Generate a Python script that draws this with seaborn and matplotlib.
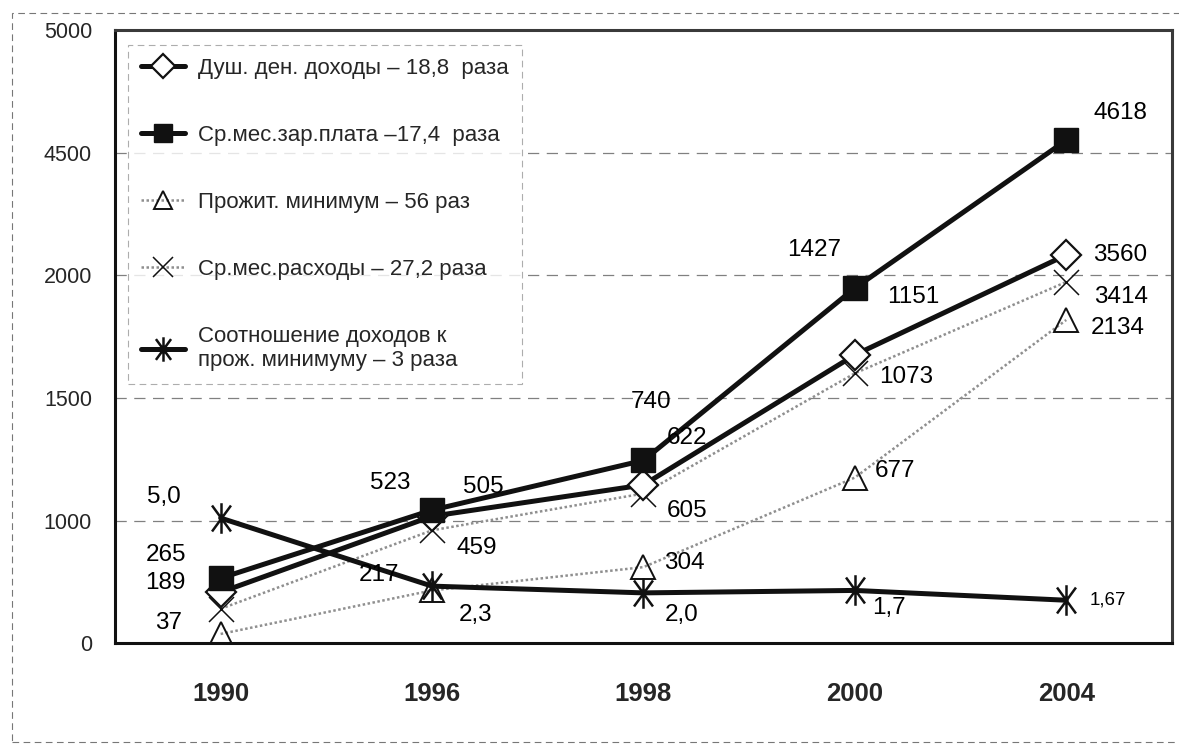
"""
Income / wages / subsistence minimum growth 1990-2004, line chart with
value labels next to each marker. The y axis carries the original
(non-linear) tick labels, so marker heights are stored in axis units.
"""

import matplotlib.pyplot as plt
import matplotlib.patches as mpatches
from matplotlib.path import Path
import numpy as np
import pandas as pd
import seaborn as sns

YEARS = ["1990", "1996", "1998", "2000", "2004"]

# tick labels printed on the y axis (positions 0, 1000, ... 5000)
Y_TICK_LABELS = ["0", "1000", "1500", "2000", "4500", "5000"]

# plotted heights in axis units
INCOME = [415, 1035, 1290, 2350, 3165]
WAGE = [530, 1085, 1490, 2895, 4100]
SUBSIST = [75, 430, 620, 1350, 2635]
SPEND = [280, 920, 1220, 2200, 2945]
RATIO = [1020, 465, 410, 430, 350]

# numbers printed next to the markers
INCOME_TXT = ["189", "505", "622", "1151", "3560"]
WAGE_TXT = ["265", "523", "740", "1427", "4618"]
SUBSIST_TXT = ["37", "217", "304", "677", "2134"]
SPEND_TXT = [None, "459", "605", "1073", "3414"]
RATIO_TXT = ["5,0", "2,3", "2,0", "1,7", "1,67"]

LABELS = [
    "Душ. ден. доходы – 18,8  раза",
    "Ср.мес.зар.плата –17,4  раза",
    "Прожит. минимум – 56 раз",
    "Ср.мес.расходы – 27,2 раза",
    "Соотношение доходов к\nпрож. минимуму – 3 раза",
]

# label offsets in pixels from each marker (dx, dy)
OFF_INCOME = [(-55, 9), (51, 29), (44, 47), (58, 58), (54, 0)]
OFF_WAGE = [(-55, 23), (-42, 27), (8, 58), (-41, 38), (54, 27)]
OFF_SUBSIST = [(-52, 11), (-53, 15), (41, 4), (40, 7), (52, -8)]
OFF_SPEND = [None, (45, -18), (44, -17), (51, -4), (55, -15)]
OFF_RATIO = [(-57, 21), (44, -29), (38, -22), (34, -18), (42, 0)]

# asterisk as in the scan: a vertical stroke crossed by a steep X
STAR = Path(
    [(0, -1), (0, 1), (-0.62, -0.85), (0.62, 0.85), (-0.62, 0.85), (0.62, -0.85)],
    [Path.MOVETO, Path.LINETO, Path.MOVETO, Path.LINETO, Path.MOVETO, Path.LINETO],
)

sns.set_style("white")
plt.rcParams["font.family"] = ["Liberation Sans", "DejaVu Sans"]

fig = plt.figure(figsize=(11.79, 7.47), dpi=100)
ax = fig.add_axes([0.0975, 0.139, 0.8965, 0.821])

# outer dashed frame of the scanned figure
fig.patches.append(mpatches.Rectangle(
    (12 / 1179, 5 / 747), 1.0, 1 - 18 / 747, transform=fig.transFigure,
    fill=False, ec="#777777", lw=0.8, ls=(0, (6, 4)), zorder=0))

BLACK = "#111111"
GREY = "#8f8f8f"

series = [
    (INCOME, dict(color=BLACK, lw=3.6, marker="D", ms=15, mfc="white",
                  mec=BLACK, mew=1.6), INCOME_TXT, OFF_INCOME, 4),
    (WAGE, dict(color=BLACK, lw=3.6, marker="s", ms=17, mfc=BLACK,
                mec=BLACK, mew=1), WAGE_TXT, OFF_WAGE, 5),
    (SUBSIST, dict(color=GREY, lw=1.8, ls=(0, (1, 1)), marker="^", ms=17,
                   mfc="none", mec=BLACK, mew=1.4), SUBSIST_TXT, OFF_SUBSIST, 2),
    (SPEND, dict(color=GREY, lw=1.8, ls=(0, (1, 1)), marker="x", ms=18,
                 mfc="none", mec=BLACK, mew=1.1), SPEND_TXT, OFF_SPEND, 3),
    (RATIO, dict(color=BLACK, lw=3.6, marker=STAR, ms=22,
                 mec=BLACK, mew=1.8), RATIO_TXT, OFF_RATIO, 6),
]

for (vals, style, texts, offs, z), lab in zip(series, LABELS):
    sns.lineplot(x=YEARS, y=vals, ax=ax, label=lab, sort=False,
                 zorder=z, **style)
    for i, (t, o) in enumerate(zip(texts, offs)):
        if t is None:
            continue
        fs = 13.5 if t == "1,67" else 17.5
        ax.annotate(t, (i, vals[i]), xytext=o, textcoords="offset pixels",
                    ha="center", va="center", fontsize=fs, color="black",
                    zorder=8)

ax.set_xlim(-0.5, 4.5)
ax.set_ylim(0, 5000)
ax.set_yticks(np.arange(0, 5001, 1000))
ax.set_yticklabels(Y_TICK_LABELS, fontsize=15.5)
ax.set_xticks(range(len(YEARS)))
ax.set_xticklabels(YEARS, fontsize=18.5, fontweight="bold")
ax.set_xticks(np.arange(0.5, 4.5, 1), minor=True)
ax.tick_params(axis="x", which="major", length=0, pad=28)
ax.tick_params(axis="x", which="minor", length=7, width=1, direction="out",
               color=BLACK)
ax.tick_params(axis="y", length=9, width=1, direction="inout", pad=12,
               color=BLACK)
ax.set_xlabel("")
ax.set_ylabel("")

for y in np.arange(1000, 5000, 1000):
    ax.axhline(y, color="#555555", lw=0.9, ls=(0, (9, 6)), alpha=0.75,
               zorder=1)

for side in ["left", "bottom"]:
    ax.spines[side].set_color(BLACK)
    ax.spines[side].set_linewidth(2.2)
for side in ["top", "right"]:
    ax.spines[side].set_color("#3a3a3a")
    ax.spines[side].set_linewidth(2.2)

leg = ax.legend(loc="upper left", bbox_to_anchor=(0.012, 0.976),
                fontsize=16, frameon=True, handlelength=2.0,
                handletextpad=0.55, labelspacing=2.07, borderpad=0.6,
                borderaxespad=0, fancybox=False, markerscale=0.8)
frame = leg.get_frame()
frame.set_edgecolor("#999999")
frame.set_linestyle((0, (6, 4)))
frame.set_linewidth(0.8)
frame.set_facecolor("white")
leg.set_zorder(10)

fig.savefig("out.png", dpi=100)
